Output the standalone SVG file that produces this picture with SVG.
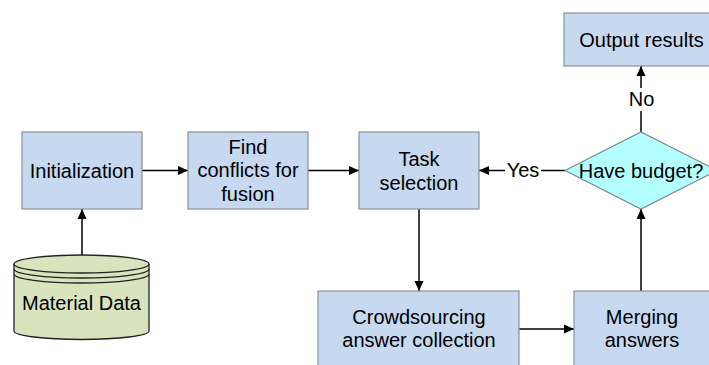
<svg xmlns="http://www.w3.org/2000/svg" width="709" height="365" viewBox="0 0 709 365">
<defs>
<style>
.box{fill:#c6d9f0;stroke:#8a8f96;stroke-width:1.2}
.dia{fill:#b3ffff;stroke:#7a8a8a;stroke-width:1.2}
.cyl{fill:#d7e4bd;stroke:#222;stroke-width:1.3}
.arc{fill:none;stroke:#222;stroke-width:1.3}
.t{font-family:"Liberation Sans",Arial,sans-serif;font-size:20px;fill:#000;text-anchor:middle}
.c{stroke:#000;stroke-width:1.5;fill:none}
</style>
<marker id="ah" viewBox="0 0 10 10" refX="10" refY="5" markerWidth="10" markerHeight="10" markerUnits="userSpaceOnUse" orient="auto">
<path d="M0,0.5 L10,5 L0,9.5 z" fill="#000"/>
</marker>
</defs>
<rect width="709" height="365" fill="#fff"/>
<g id="connectors">
<line class="c" x1="142" y1="170.5" x2="188" y2="170.5" marker-end="url(#ah)"/>
<line class="c" x1="308" y1="170.5" x2="359" y2="170.5" marker-end="url(#ah)"/>
<line class="c" x1="82" y1="255" x2="82" y2="209" marker-end="url(#ah)"/>
<line class="c" x1="419" y1="209" x2="419" y2="291" marker-end="url(#ah)"/>
<line class="c" x1="519" y1="329" x2="574" y2="329" marker-end="url(#ah)"/>
<line class="c" x1="641" y1="291" x2="641" y2="209" marker-end="url(#ah)"/>
<line class="c" x1="641" y1="132" x2="641" y2="111"/>
<line class="c" x1="641" y1="88" x2="641" y2="66" marker-end="url(#ah)"/>
<text class="t" x="641.5" y="106">No</text>
<line class="c" x1="565" y1="170.5" x2="541" y2="170.5"/>
<line class="c" x1="505" y1="170.5" x2="479" y2="170.5" marker-end="url(#ah)"/>
<text class="t" x="523" y="177">Yes</text>
</g>
<g id="initialization">
<rect class="box" x="22" y="132" width="120" height="77"/>
<text class="t" x="82" y="177.5">Initialization</text>
</g>
<g id="find-conflicts">
<rect class="box" x="188" y="132" width="120" height="77"/>
<text class="t" x="248" y="153.5">Find</text>
<text class="t" x="248" y="177">conflicts for</text>
<text class="t" x="248" y="200.5">fusion</text>
</g>
<g id="task-selection">
<rect class="box" x="359" y="132" width="120" height="77"/>
<text class="t" x="419" y="165.5">Task</text>
<text class="t" x="419" y="189.5">selection</text>
</g>
<g id="output-results">
<rect class="box" x="564" y="13" width="154" height="53"/>
<text class="t" x="641.5" y="46.5">Output results</text>
</g>
<g id="have-budget">
<polygon class="dia" points="565,170.5 641,132 717,170.5 641,209"/>
<text class="t" x="641" y="177.5">Have budget?</text>
</g>
<g id="crowdsourcing">
<rect class="box" x="318" y="291" width="201" height="76"/>
<text class="t" x="419" y="323.5">Crowdsourcing</text>
<text class="t" x="419" y="347">answer collection</text>
</g>
<g id="merging">
<rect class="box" x="574" y="291" width="136" height="76"/>
<text class="t" x="642" y="323.5">Merging</text>
<text class="t" x="642" y="347">answers</text>
</g>
<g id="material-data">
<path class="cyl" d="M14,264 A67.5,9 0 0 1 149,264 L149,331 A67.5,8.5 0 0 1 14,331 Z"/>
<path class="arc" d="M14,264 A67.5,9 0 0 0 149,264"/>
<path class="arc" d="M14,269 A67.5,9 0 0 0 149,269"/>
<path class="arc" d="M14,274 A67.5,9 0 0 0 149,274"/>
<text class="t" x="81.5" y="310">Material Data</text>
</g>
</svg>
